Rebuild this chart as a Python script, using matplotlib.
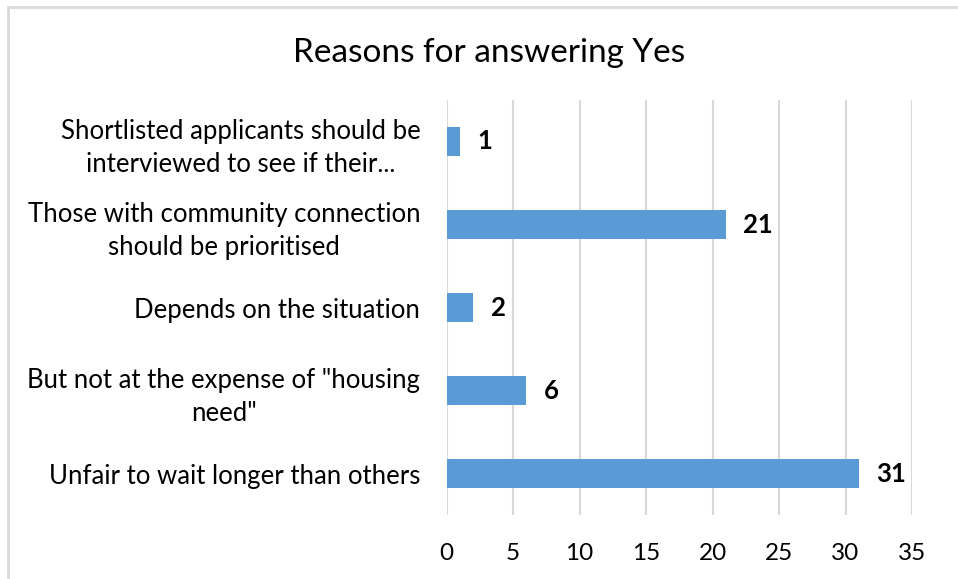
import matplotlib.pyplot as plt
from matplotlib.patches import Rectangle

categories = [
    'Shortlisted applicants should be\ninterviewed to see if their...',
    'Those with community connection\nshould be prioritised',
    'Depends on the situation',
    'But not at the expense of "housing\nneed"',
    'Unfair to wait longer than others',
]
counts = [1, 21, 2, 6, 31]
xticks = [0, 5, 10, 15, 20, 25, 30, 35]

plt.rcParams['font.family'] = ['Lato', 'DejaVu Sans']

fig = plt.figure(figsize=(9.58, 5.79), dpi=100)
ax = fig.add_axes([0.4663, 0.1105, 0.4857, 0.7168])

# outer chart frame (runs off the right and bottom edges)
fig.patches.append(Rectangle((8 / 958, -0.05), 1.2, 1 - 7 / 579 + 0.05,
                             transform=fig.transFigure, fill=False,
                             edgecolor='#D9D9D9', linewidth=2))

ypos = list(range(len(categories)))
ax.barh(ypos, counts, height=0.34, color='#5B9BD5', zorder=3)
for y, v in zip(ypos, counts):
    ax.text(v + 1.3, y, str(v), va='center', ha='left',
            fontsize=18.5, fontweight='bold', color='black')

ax.set_yticks(ypos)
ax.set_yticklabels(categories, fontsize=18.5, ha='right', multialignment='center',
                   linespacing=1.4)
ax.set_ylim(len(categories) - 0.5, -0.5)
ax.set_xlim(0, 35)
ax.set_xticks(xticks)
ax.set_xticklabels([str(t) for t in xticks], fontsize=17.5)
ax.tick_params(axis='y', length=0, pad=19)
ax.tick_params(axis='x', length=0, pad=20)
ax.grid(axis='x', color='#D9D9D9', linewidth=1.5, zorder=0)
for s in ax.spines.values():
    s.set_visible(False)

fig.text(0.510, 0.908, 'Reasons for answering Yes', ha='center', va='center',
         fontsize=24, color='black')

fig.savefig('out.png', dpi=100)
